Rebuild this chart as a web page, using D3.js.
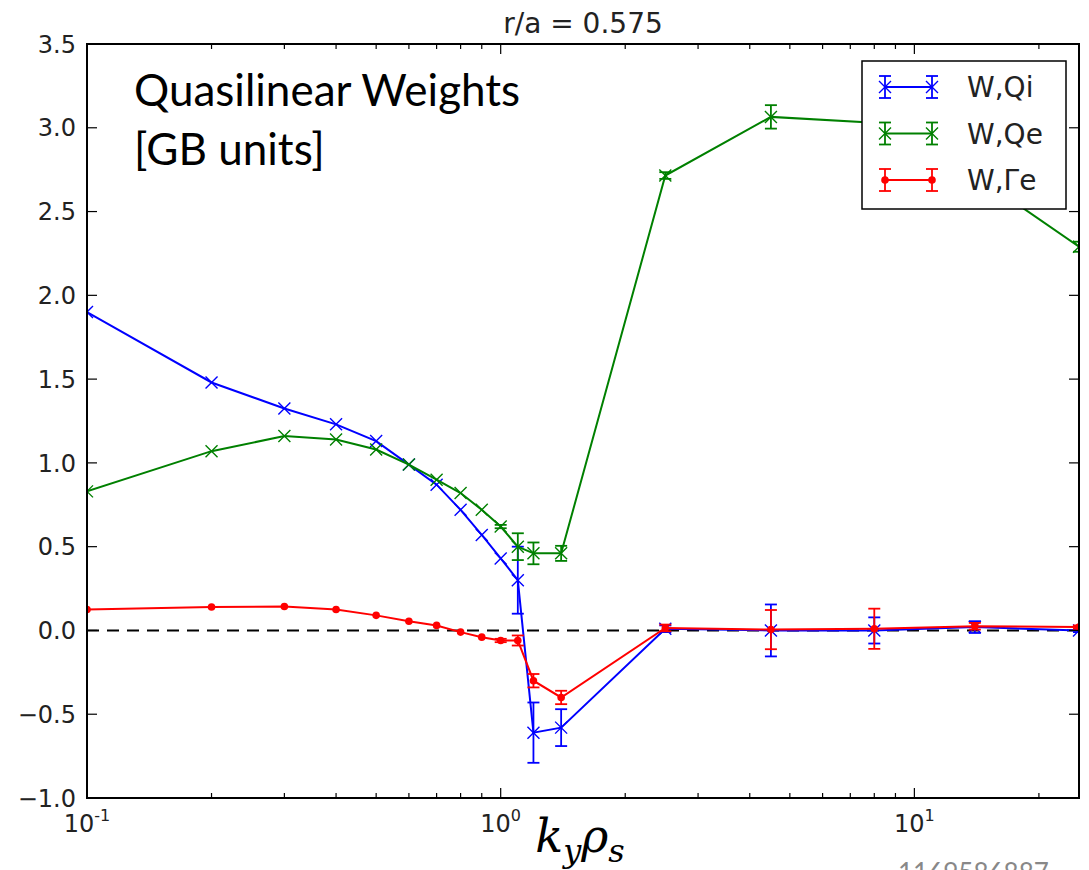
<!DOCTYPE html>
<html>
<head>
<meta charset="utf-8">
<script src="https://cdn.jsdelivr.net/npm/d3@7"></script>
<style>
  body { margin: 0; background: #fff; }
  svg { display: block; }
</style>
</head>
<body>
<div id="chart"></div>
<script>
// k_y rho_s sample points
var kyRho = [0.1, 0.2, 0.3, 0.4, 0.5, 0.6, 0.7, 0.8, 0.9, 1.0, 1.1, 1.2, 1.4, 2.5, 4.5, 8, 14, 25];

// W,Qi
var wQi = [1.90, 1.48, 1.325, 1.23, 1.13, 0.99, 0.87, 0.72, 0.57, 0.43, 0.30, -0.61, -0.58, 0.01, 0.0, 0.0, 0.02, 0.0];
var wQiErr = [0, 0, 0, 0, 0, 0, 0, 0, 0, 0, 0.20, 0.18, 0.11, 0.02, 0.155, 0.078, 0.035, 0.01];

// W,Qe
var wQe = [0.83, 1.07, 1.16, 1.14, 1.08, 0.99, 0.90, 0.82, 0.72, 0.62, 0.50, 0.46, 0.46, 2.715, 3.065, 3.03, 2.72, 2.29];
var wQeErr = [0, 0, 0, 0, 0, 0, 0, 0, 0, 0.01, 0.08, 0.065, 0.045, 0.02, 0.07, 0.05, 0.04, 0.03];

// W,Gamma e
var wGe = [0.125, 0.14, 0.143, 0.125, 0.09, 0.055, 0.03, -0.01, -0.04, -0.06, -0.06, -0.30, -0.40, 0.015, 0.005, 0.01, 0.025, 0.02];
var wGeErr = [0, 0, 0, 0, 0, 0, 0, 0, 0, 0.01, 0.03, 0.04, 0.04, 0.02, 0.117, 0.12, 0.02, 0.01];

var yTicks = [-1.0, -0.5, 0.0, 0.5, 1.0, 1.5, 2.0, 2.5, 3.0, 3.5];
var xMajor = [0.1, 1, 10];
var xExp = ["-1", "0", "1"];

var seriesNames = ["W,Qi", "W,Qe", "W,Γe"];

function init() {

    var width = 1089;
    var height = 870;
    var left = 87, right = 1079, top = 44, bottom = 798;

    var x = d3.scaleLog().domain([0.1, 25]).range([left, right]);
    var y = d3.scaleLinear().domain([-1.0, 3.5]).range([bottom, top]);

    var svg = d3.select("#chart")
        .append("svg")
        .attr("width", width)
        .attr("height", height);

    svg.append("clipPath")
        .attr("id", "plotclip")
        .append("rect")
        .attr("x", left).attr("y", top)
        .attr("width", right - left).attr("height", bottom - top);

    var series = [
        { name: seriesNames[0], vals: wQi, err: wQiErr, color: "#0000ff", marker: "x" },
        { name: seriesNames[1], vals: wQe, err: wQeErr, color: "#008000", marker: "x" },
        { name: seriesNames[2], vals: wGe, err: wGeErr, color: "#ff0000", marker: "dot" }
    ];

    var plot = svg.append("g").attr("clip-path", "url(#plotclip)");

    // zero line
    plot.append("line")
        .attr("x1", left).attr("x2", right)
        .attr("y1", y(0)).attr("y2", y(0))
        .attr("stroke", "#000")
        .attr("stroke-width", 2)
        .attr("stroke-dasharray", "12,8");

    var line = d3.line()
        .x(function (d) { return x(d.k); })
        .y(function (d) { return y(d.v); });

    function drawMarker(g, cx, cy, s) {
        if (s.marker === "x") {
            var r = 6;
            g.append("path")
                .attr("d", "M" + (cx - r) + "," + (cy - r) + "L" + (cx + r) + "," + (cy + r) +
                    "M" + (cx - r) + "," + (cy + r) + "L" + (cx + r) + "," + (cy - r))
                .attr("stroke", s.color)
                .attr("stroke-width", 1.4)
                .attr("fill", "none");
        } else {
            g.append("circle")
                .attr("cx", cx).attr("cy", cy).attr("r", 3.8)
                .attr("fill", s.color);
        }
    }

    function drawErr(g, cx, cy0, cy1, color) {
        g.append("line")
            .attr("x1", cx).attr("x2", cx).attr("y1", cy0).attr("y2", cy1)
            .attr("stroke", color).attr("stroke-width", 1.8);
        [cy0, cy1].forEach(function (cy) {
            g.append("line")
                .attr("x1", cx - 6).attr("x2", cx + 6).attr("y1", cy).attr("y2", cy)
                .attr("stroke", color).attr("stroke-width", 1.8);
        });
    }

    series.forEach(function (s) {
        var pts = kyRho.map(function (k, i) { return { k: k, v: s.vals[i], e: s.err[i] }; });
        var g = plot.append("g");

        pts.forEach(function (p) {
            if (p.e > 0.005) {
                drawErr(g, x(p.k), y(p.v + p.e), y(p.v - p.e), s.color);
            }
        });

        g.append("path")
            .datum(pts)
            .attr("d", line)
            .attr("fill", "none")
            .attr("stroke", s.color)
            .attr("stroke-width", 2);

        pts.forEach(function (p) {
            drawMarker(g, x(p.k), y(p.v), s);
        });
    });

    // frame
    svg.append("rect")
        .attr("x", left).attr("y", top)
        .attr("width", right - left).attr("height", bottom - top)
        .attr("fill", "none")
        .attr("stroke", "#000")
        .attr("stroke-width", 2);

    // y ticks (inside, both sides)
    var ticks = svg.append("g").attr("stroke", "#000").attr("stroke-width", 1.2);
    yTicks.forEach(function (t) {
        ticks.append("line").attr("x1", left).attr("x2", left + 10).attr("y1", y(t)).attr("y2", y(t));
        ticks.append("line").attr("x1", right).attr("x2", right - 10).attr("y1", y(t)).attr("y2", y(t));
    });

    // x ticks, major and minor
    var minor = [];
    [0.1, 1, 10].forEach(function (d) {
        for (var m = 2; m <= 9; m++) {
            if (d * m <= 25) minor.push(d * m);
        }
    });
    xMajor.forEach(function (t) {
        ticks.append("line").attr("x1", x(t)).attr("x2", x(t)).attr("y1", bottom).attr("y2", bottom - 10);
        ticks.append("line").attr("x1", x(t)).attr("x2", x(t)).attr("y1", top).attr("y2", top + 10);
    });
    minor.forEach(function (t) {
        ticks.append("line").attr("x1", x(t)).attr("x2", x(t)).attr("y1", bottom).attr("y2", bottom - 5);
        ticks.append("line").attr("x1", x(t)).attr("x2", x(t)).attr("y1", top).attr("y2", top + 5);
    });

    // y tick labels
    svg.append("g")
        .selectAll("text")
        .data(yTicks)
        .enter()
        .append("text")
        .attr("x", left - 11)
        .attr("y", function (d) { return y(d); })
        .attr("dy", "0.36em")
        .attr("text-anchor", "end")
        .style("font-family", "DejaVu Sans")
        .style("font-size", "24px")
        .style("fill", "#222")
        .text(function (d) { return d3.format(".1f")(d).replace("-", "\u2212"); });

    // x tick labels 10^n
    xMajor.forEach(function (t, i) {
        var tx = svg.append("text")
            .attr("x", x(t))
            .attr("y", bottom + 34)
            .attr("text-anchor", "middle")
            .style("font-family", "DejaVu Sans")
            .style("font-size", "24px")
            .style("fill", "#222");
        tx.append("tspan").text("10");
        tx.append("tspan")
            .attr("dy", -11)
            .style("font-size", "16px")
            .text(xExp[i]);
    });

    // title
    svg.append("text")
        .attr("x", 583)
        .attr("y", 33)
        .attr("text-anchor", "middle")
        .style("font-family", "DejaVu Sans")
        .style("font-size", "28px")
        .style("fill", "#222")
        .text("r/a = 0.575");

    // annotation
    var note = svg.append("text")
        .style("font-family", "Lato, 'Open Sans', sans-serif")
        .style("font-size", "44px")
        .style("fill", "#000");
    note.append("tspan").attr("x", 134).attr("y", 106).text("Quasilinear Weights");
    note.append("tspan").attr("x", 134).attr("y", 165).text("[GB units]");

    // x axis label
    var xl = svg.append("text")
        .attr("x", 580)
        .attr("y", 852)
        .attr("text-anchor", "middle")
        .style("font-family", "'DejaVu Serif', serif")
        .style("font-style", "italic")
        .style("font-size", "46px")
        .style("fill", "#000");
    xl.append("tspan").text("k");
    xl.append("tspan").attr("dy", 10).style("font-size", "32px").text("y");
    xl.append("tspan").attr("dy", -10).text("ρ");
    xl.append("tspan").attr("dy", 10).style("font-size", "32px").text("s");

    // stray id text cut at the bottom edge
    svg.append("text")
        .attr("x", 898)
        .attr("y", 882)
        .style("font-family", "Lato, sans-serif")
        .style("font-size", "26px")
        .style("fill", "#888")
        .text("1169586887");

    // legend
    var lg = svg.append("g");
    lg.append("rect")
        .attr("x", 862).attr("y", 61)
        .attr("width", 204).attr("height", 148)
        .attr("fill", "#fff")
        .attr("stroke", "#000")
        .attr("stroke-width", 1.5);

    series.forEach(function (s, i) {
        var ly = 87 + i * 46.5;
        var x0 = 885, x1 = 932;
        var g = lg.append("g");
        g.append("line")
            .attr("x1", x0).attr("x2", x1).attr("y1", ly).attr("y2", ly)
            .attr("stroke", s.color).attr("stroke-width", 2);
        [x0, x1].forEach(function (px) {
            drawErr(g, px, ly - 11, ly + 11, s.color);
            drawMarker(g, px, ly, s);
        });
        g.append("text")
            .attr("x", 967)
            .attr("y", ly)
            .attr("dy", "0.36em")
            .style("font-family", "DejaVu Sans")
            .style("font-size", "28px")
            .style("fill", "#222")
            .text(s.name);
    });
}

window.onload = init;
</script>
</body>
</html>
